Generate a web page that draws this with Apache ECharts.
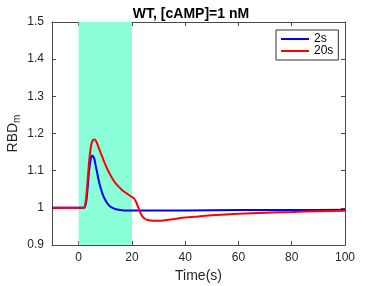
<!DOCTYPE html>
<html><head><meta charset="utf-8">
<script src="https://cdn.jsdelivr.net/npm/echarts@6/dist/echarts.min.js"></script>
<style>html,body{margin:0;padding:0;background:#fff}#c{width:382px;height:286px}</style>
</head><body><div id="c"></div>
<script>
const titleText = 'WT, [cAMP]=1 nM';
const seriesNames = ['2s', '20s'];
const xTicks = [0, 20, 40, 60, 80, 100];
const bandRange = [0, 20];
const blueT = [-10, 0, 2, 2.5, 3, 3.5, 4, 4.5, 5, 5.5, 6, 6.5, 7, 7.5, 8, 9, 10, 11, 12, 13, 14, 15, 17, 20, 30, 40, 60, 80, 100];
const blueV = [1, 1, 1, 1.005, 1.025, 1.065, 1.105, 1.13, 1.14, 1.138, 1.128, 1.11, 1.093, 1.075, 1.06, 1.037, 1.021, 1.01, 1.003, 0.999, 0.996, 0.995, 0.993, 0.993, 0.993, 0.993, 0.994, 0.994, 0.995];
const redT = [-10, 0, 2, 2.5, 3, 3.5, 4, 4.5, 5, 5.5, 6, 6.5, 7, 8, 9, 10, 11, 12, 13, 14, 15, 16, 17, 18, 19, 20, 20.5, 21, 21.5, 22, 22.5, 23, 23.5, 24, 25, 26, 28, 30, 33, 36, 40, 45, 50, 60, 70, 80, 90, 100];
const redV = [1, 1, 1, 1.01, 1.04, 1.085, 1.13, 1.16, 1.177, 1.183, 1.184, 1.18, 1.172, 1.153, 1.135, 1.117, 1.101, 1.087, 1.075, 1.065, 1.057, 1.05, 1.044, 1.039, 1.034, 1.029, 1.027, 1.023, 1.017, 1.008, 0.999, 0.99, 0.982, 0.976, 0.97, 0.967, 0.965, 0.965, 0.967, 0.97, 0.974, 0.977, 0.98, 0.984, 0.987, 0.989, 0.991, 0.992];

const zip = (t, v) => t.map((x, i) => [x, v[i]]);
const axisCol = '#4a4a4a';
const font = 'Liberation Sans, Arial, Helvetica, sans-serif';
const chart = echarts.init(document.getElementById('c'));
const baseX = {
  type: 'value', min: -10, max: 100,
  splitLine: { show: false },
  axisLine: { show: true, onZero: false, lineStyle: { color: axisCol, width: 1 } },
  axisTick: { show: true, inside: true, length: 4, customValues: xTicks, lineStyle: { color: axisCol } },
};
const baseY = {
  type: 'value', min: 0.9, max: 1.5, interval: 0.1,
  splitLine: { show: false },
  axisLine: { show: true, onZero: false, lineStyle: { color: axisCol, width: 1 } },
  axisTick: { show: true, inside: true, length: 4, lineStyle: { color: axisCol } },
};
chart.setOption({
  animation: false,
  backgroundColor: '#fff',
  title: {
    text: titleText, left: 186, top: 2, textAlign: 'center',
    textStyle: { fontFamily: font, fontSize: 14, fontWeight: 'bold', color: '#000' }
  },
  grid: { left: 52, right: 37, top: 22, bottom: 41, containLabel: false, outerBoundsMode: 'none' },
  legend: {
    data: seriesNames, orient: 'vertical', left: 276, top: 30,
    padding: [3, 5, 3, 4], itemGap: 0, itemWidth: 28, itemHeight: 14, itemTextGap: 2,
    borderColor: '#333', borderWidth: 1, backgroundColor: '#fff',
    itemStyle: { opacity: 0 },
    textStyle: { fontFamily: font, fontSize: 12, color: '#000' }
  },
  xAxis: [
    Object.assign({}, baseX, {
      position: 'bottom',
      axisLabel: { customValues: xTicks, margin: 7, fontFamily: font, fontSize: 12, color: '#262626' },
      name: 'Time(s)', nameLocation: 'middle', nameGap: 24, nameMoveOverlap: false,
      nameTextStyle: { fontFamily: font, fontSize: 14, color: '#262626' }
    }),
    Object.assign({}, baseX, { position: 'top', axisLabel: { show: false } })
  ],
  yAxis: [
    Object.assign({}, baseY, {
      position: 'left',
      axisLabel: { margin: 8, fontFamily: font, fontSize: 12, color: '#262626', formatter: v => String(Math.round(v * 10) / 10) },
      name: '{a|RBD}{b|m}', nameLocation: 'middle', nameGap: 30, nameRotate: 90, nameMoveOverlap: false,
      nameTextStyle: {
        rich: {
          a: { fontFamily: font, fontSize: 14, color: '#262626', lineHeight: 16, verticalAlign: 'top' },
          b: { fontFamily: font, fontSize: 10, color: '#262626', lineHeight: 10, verticalAlign: 'bottom', padding: [10, 0, 0, 0] }
        }
      }
    }),
    Object.assign({}, baseY, { position: 'right', axisLabel: { show: false } })
  ],
  series: [
    {
      name: seriesNames[0], type: 'line', data: zip(blueT, blueV), symbol: 'none', smooth: 0.3,
      lineStyle: { color: '#0000ff', width: 2 }, itemStyle: { color: '#0000ff' }, z: 3,
      markArea: {
        silent: true, itemStyle: { color: '#8affd8', opacity: 1 },
        data: [[{ xAxis: bandRange[0] }, { xAxis: bandRange[1] }]]
      }
    },
    {
      name: seriesNames[1], type: 'line', data: zip(redT, redV), symbol: 'none', smooth: 0.3,
      lineStyle: { color: '#ff0000', width: 2 }, itemStyle: { color: '#ff0000' }, z: 4
    }
  ]
});
</script></body></html>
